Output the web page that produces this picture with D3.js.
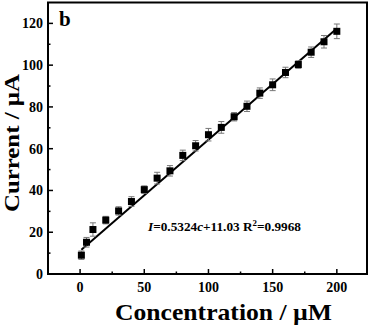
<!DOCTYPE html>
<html>
<head>
<meta charset="utf-8">
<script src="https://cdn.jsdelivr.net/npm/d3@7"></script>
<style>
  body { margin: 0; background: #fff; }
  svg { display: block; font-family: "Liberation Serif", "Times New Roman", serif; font-weight: bold; }
</style>
</head>
<body>
<div id="chart"></div>
<script>
const width = 371;
const height = 327;

// concentration (uM) and current (uA) with error bars
const conc = [1, 5, 10, 20, 30, 40, 50, 60, 70, 80, 90, 100, 110, 120, 130, 140, 150, 160, 170, 180, 190, 200];
const current = [9.0, 15.2, 21.3, 25.8, 30.2, 34.7, 40.4, 45.9, 49.4, 56.8, 61.4, 66.7, 70.2, 75.3, 80.3, 86.6, 90.6, 96.5, 100.3, 106.2, 111.2, 116.2];
const errs = [2.0, 2.3, 3.2, 1.8, 2.0, 2.3, 1.8, 2.8, 2.5, 2.5, 2.5, 3.0, 2.8, 2.0, 2.5, 2.5, 2.8, 2.5, 1.8, 2.5, 3.0, 3.5];

const slope = 0.5324, intercept = 11.03;
const fitRange = [1, 200];

const xTicks = [0, 50, 100, 150, 200];
const xMinor = [25, 75, 125, 175];
const yTicks = [0, 20, 40, 60, 80, 100, 120];
const yMinor = [10, 30, 50, 70, 90, 110];

const mLeft = 48, mRight = 367, mTop = 2.5, mBottom = 274;

const x = d3.scaleLinear().domain([-25, 223.5]).range([mLeft, mRight]);
const y = d3.scaleLinear().domain([0, 130]).range([mBottom, mTop]);

const svg = d3.select("#chart").append("svg")
    .attr("width", width)
    .attr("height", height);

// frame
svg.append("rect")
    .attr("x", mLeft).attr("y", mTop)
    .attr("width", mRight - mLeft).attr("height", mBottom - mTop)
    .attr("fill", "none")
    .attr("stroke", "#000")
    .attr("stroke-width", 2);

// x axis ticks (inward)
const xAxis = svg.append("g").attr("transform", `translate(0,${mBottom})`);
xAxis.selectAll("line.major").data(xTicks).join("line")
    .attr("class", "major")
    .attr("x1", d => x(d)).attr("x2", d => x(d))
    .attr("y1", 0).attr("y2", -5)
    .attr("stroke", "#000").attr("stroke-width", 1.5);
xAxis.selectAll("line.minor").data(xMinor).join("line")
    .attr("class", "minor")
    .attr("x1", d => x(d)).attr("x2", d => x(d))
    .attr("y1", 0).attr("y2", -2.5)
    .attr("stroke", "#000").attr("stroke-width", 1.5);
xAxis.selectAll("text").data(xTicks).join("text")
    .attr("x", d => x(d))
    .attr("y", 17.5)
    .attr("text-anchor", "middle")
    .attr("font-size", 14)
    .text(d => d);

// y axis ticks (inward)
const yAxis = svg.append("g").attr("transform", `translate(${mLeft},0)`);
yAxis.selectAll("line.major").data(yTicks).join("line")
    .attr("class", "major")
    .attr("y1", d => y(d)).attr("y2", d => y(d))
    .attr("x1", 0).attr("x2", 5)
    .attr("stroke", "#000").attr("stroke-width", 1.5);
yAxis.selectAll("line.minor").data(yMinor).join("line")
    .attr("class", "minor")
    .attr("y1", d => y(d)).attr("y2", d => y(d))
    .attr("x1", 0).attr("x2", 2.5)
    .attr("stroke", "#000").attr("stroke-width", 1.5);
yAxis.selectAll("text").data(yTicks).join("text")
    .attr("x", -5)
    .attr("y", d => y(d))
    .attr("dy", "0.35em")
    .attr("text-anchor", "end")
    .attr("font-size", 14)
    .text(d => d);

// fit line
svg.append("line")
    .attr("x1", x(fitRange[0])).attr("y1", y(slope * fitRange[0] + intercept))
    .attr("x2", x(fitRange[1])).attr("y2", y(slope * fitRange[1] + intercept))
    .attr("stroke", "#000").attr("stroke-width", 2);

// error bars
const pts = conc.map((c, i) => ({c: c, v: current[i], e: errs[i]}));
const eb = svg.append("g").attr("stroke", "#777").attr("stroke-width", 1);
eb.selectAll("line.v").data(pts).join("line")
    .attr("class", "v")
    .attr("x1", d => x(d.c)).attr("x2", d => x(d.c))
    .attr("y1", d => y(d.v - d.e)).attr("y2", d => y(d.v + d.e));
eb.selectAll("line.t").data(pts).join("line")
    .attr("class", "t")
    .attr("x1", d => x(d.c) - 3).attr("x2", d => x(d.c) + 3)
    .attr("y1", d => y(d.v + d.e)).attr("y2", d => y(d.v + d.e));
eb.selectAll("line.b").data(pts).join("line")
    .attr("class", "b")
    .attr("x1", d => x(d.c) - 3).attr("x2", d => x(d.c) + 3)
    .attr("y1", d => y(d.v - d.e)).attr("y2", d => y(d.v - d.e));

// markers
svg.append("g").selectAll("rect").data(pts).join("rect")
    .attr("x", d => x(d.c) - 3.5)
    .attr("y", d => y(d.v) - 3.5)
    .attr("width", 7).attr("height", 7)
    .attr("fill", "#000");

// panel letter
svg.append("text")
    .attr("x", 59).attr("y", 26)
    .attr("font-size", 21)
    .text("b");

// equation
const eq = svg.append("text")
    .attr("x", 148).attr("y", 231)
    .attr("font-size", 13.5)
    .attr("textLength", 153)
    .attr("lengthAdjust", "spacingAndGlyphs");
eq.append("tspan").attr("font-style", "italic").text("I");
eq.append("tspan").text("=0.5324");
eq.append("tspan").attr("font-style", "italic").text("c");
eq.append("tspan").text("+11.03 R");
eq.append("tspan").attr("font-size", 9).attr("dy", -5.5).text("2");
eq.append("tspan").attr("dy", 5.5).text("=0.9968");

// axis titles
svg.append("text")
    .attr("x", 115).attr("y", 320)
    .attr("font-size", 23)
    .attr("textLength", 217)
    .attr("lengthAdjust", "spacingAndGlyphs")
    .text("Concentration / µM");

svg.append("text")
    .attr("transform", `translate(19,212) rotate(-90)`)
    .attr("font-size", 22)
    .attr("textLength", 138)
    .attr("lengthAdjust", "spacingAndGlyphs")
    .text("Current / µA");
</script>
</body>
</html>
